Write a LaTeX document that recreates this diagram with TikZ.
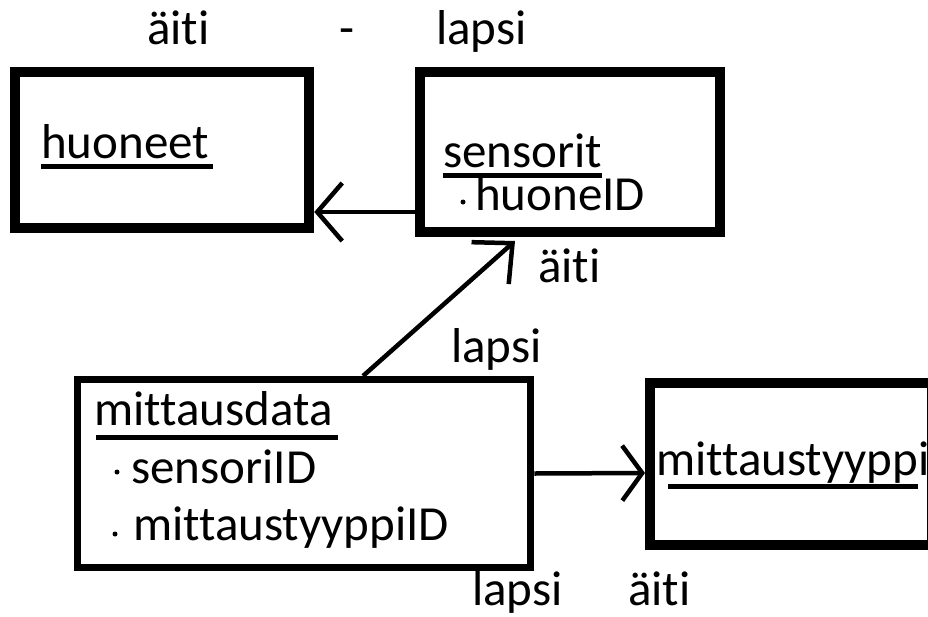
\documentclass[tikz,border=0pt]{standalone}
\usepackage{fontspec}
\setmainfont{Carlito}[RawFeature={-liga;-clig;-dlig}]
\usetikzlibrary{arrows.meta}
\begin{document}
\begin{tikzpicture}[x=1pt,y=-1pt,
  box/.style n args={3}{draw, line width=#1, minimum width=#2, minimum height=#3, inner sep=0pt},
  lbl/.style={anchor=base west, inner sep=0pt, font=\fontsize{49}{58}\selectfont},
  uline/.style={line width=5pt},
  conn/.style={line width=4.5pt},
  bullet/.style={circle, fill, inner sep=0pt, minimum size=5pt}
]
\useasboundingbox (0,0) rectangle (928,616);
\clip (0,0) rectangle (928,616);

% boxes
\node[box={10pt}{294.5pt}{155.5pt}] (huoneet) at (162,150) {};
\node[box={10pt}{300pt}{160pt}] (sensorit) at (570,152) {};
\node[box={7pt}{453.5pt}{188pt}] (mittausdata) at (304,473.5) {};
\node[box={10pt}{282pt}{162pt}] (mittaustyyppi) at (791,464) {};

% top labels
\node[lbl] (t1) at (147,44) {äiti};
\node[lbl] (t2) at (339,44) {-};
\node[lbl] (t3) at (436,44) {lapsi};

% table titles
\node[lbl] (huonT) at (41,158) {huoneet};
\draw[uline] ([yshift=-8pt]huonT.base west) -- ([yshift=-8pt,xshift=4pt]huonT.base east);
\node[lbl] (sensT) at (443,167) {sensorit};
\draw[uline] ([yshift=-8pt]sensT.base west) -- ([yshift=-8pt]sensT.base east);
\node[bullet] (d1) at (463,202) {};
\node[lbl] (huoneID) at (475,210) {huoneID};

\node[lbl] (mitT) at (94,425) {mittausdata};
\draw[uline] ([yshift=-12pt,xshift=2pt]mitT.base west) -- ([yshift=-12pt,xshift=5pt]mitT.base east);
\node[bullet] (d2) at (117,472) {};
\node[lbl] (sensoriID) at (131,483) {sensoriID};
\node[bullet] (d3) at (115,534) {};
\node[lbl] (mtID) at (133,540) {mittaustyyppiID};

\node[lbl] (mtT) at (656,475) {mittaustyyppi};
\draw[uline] ([yshift=-11pt,xshift=12pt]mtT.base west) -- ([yshift=-11pt,xshift=-12pt]mtT.base east);

% connector labels
\node[lbl] (l1) at (538,282) {äiti};
\node[lbl] (l2) at (451,362) {lapsi};
\node[lbl] (l3) at (472,605) {lapsi};
\node[lbl] (l4) at (628,605) {äiti};

% connectors
\draw[conn, -{Straight Barb[length=25pt,width=58pt]}] ([yshift=-60pt]sensorit.west) -- ([yshift=-62pt]huoneet.east);
\draw[conn, -{Straight Barb[length=30pt,width=56pt]}] ([xshift=59pt]mittausdata.north) -- ([xshift=-55pt,yshift=-4pt]sensorit.south);
\draw[conn, -{Straight Barb[length=20pt,width=55pt]}] (mittausdata.east) -- ([yshift=-9pt]mittaustyyppi.west);
\end{tikzpicture}
\end{document}
